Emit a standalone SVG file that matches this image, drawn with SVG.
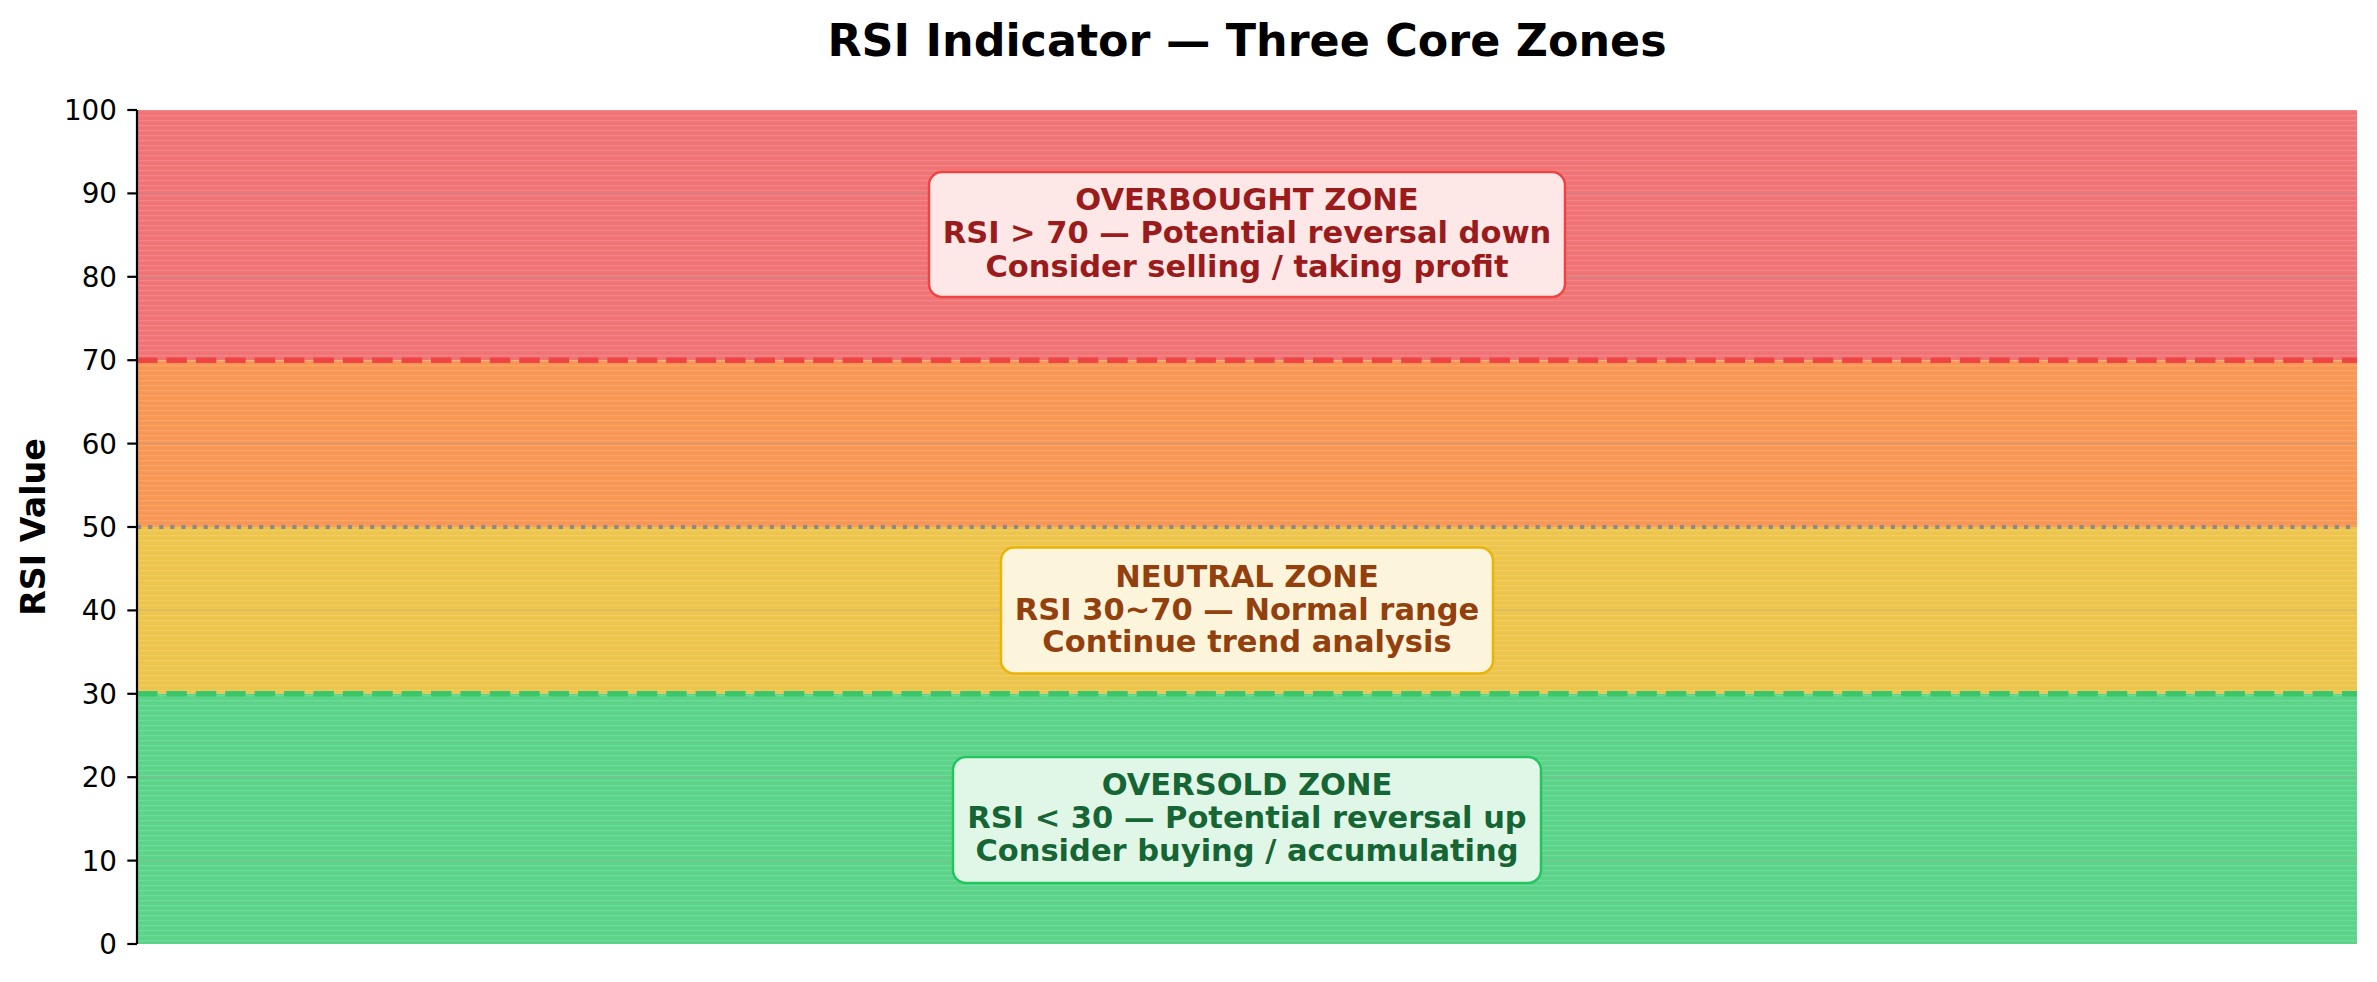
<svg xmlns="http://www.w3.org/2000/svg" width="2377" height="982" viewBox="0 0 2377 982">
<style>
  text { font-family: "DejaVu Sans", "Liberation Sans", sans-serif; }
  .tick { font-size: 27.8px; fill: #000; text-anchor: end; }
  .title { font-size: 44.4px; font-weight: bold; text-anchor: middle; fill: #000; }
  .ylab { font-size: 33.3px; font-weight: bold; text-anchor: middle; fill: #000; }
  .bt { font-size: 30.5px; font-weight: bold; text-anchor: middle; }
  .grid { stroke: #9a9a9a; stroke-opacity: 0.35; stroke-width: 1.4; }
</style>
<defs>
  <pattern id="stripes" patternUnits="userSpaceOnUse" width="10" height="5">
    <rect x="0" y="0" width="10" height="1.2" fill="#ffffff" fill-opacity="0.13"/>
  </pattern>
</defs>
<rect width="2377" height="982" fill="#ffffff"/>
<text class="title" x="1247" y="56">RSI Indicator — Three Core Zones</text>

<g id="zones">
  <rect x="137" y="110" width="2220" height="250.2" fill="#f07476"/>
  <rect x="137" y="360.2" width="2220" height="166.8" fill="#f89754"/>
  <rect x="137" y="527" width="2220" height="166.8" fill="#eec54c"/>
  <rect x="137" y="693.8" width="2220" height="250.2" fill="#5bd48a"/>
  <rect x="137" y="110" width="2220" height="834" fill="url(#stripes)"/>
</g>

<g id="grid">
  <line class="grid" x1="137" x2="2357" y1="193.4" y2="193.4"/>
  <line class="grid" x1="137" x2="2357" y1="276.8" y2="276.8"/>
  <line class="grid" x1="137" x2="2357" y1="443.6" y2="443.6"/>
  <line class="grid" x1="137" x2="2357" y1="610.4" y2="610.4"/>
  <line class="grid" x1="137" x2="2357" y1="777.2" y2="777.2"/>
  <line class="grid" x1="137" x2="2357" y1="860.6" y2="860.6"/>
</g>

<g id="connectors">
  <line x1="137" x2="2357" y1="360.2" y2="360.2" stroke="#ef4444" stroke-width="5.5" stroke-dasharray="20.5 8.9"/>
  <line x1="137" x2="2357" y1="527" y2="527" stroke="#8a8a8a" stroke-width="4" stroke-dasharray="4.2 6.9"/>
  <line x1="137" x2="2357" y1="693.8" y2="693.8" stroke="#3cc66a" stroke-width="5.5" stroke-dasharray="20.5 8.9"/>
</g>

<g id="axis">
  <line x1="137" x2="137" y1="110" y2="944" stroke="#000" stroke-width="2.2"/>
  <g stroke="#000" stroke-width="2.2">
    <line x1="127.3" x2="137" y1="110" y2="110"/>
    <line x1="127.3" x2="137" y1="193.4" y2="193.4"/>
    <line x1="127.3" x2="137" y1="276.8" y2="276.8"/>
    <line x1="127.3" x2="137" y1="360.2" y2="360.2"/>
    <line x1="127.3" x2="137" y1="443.6" y2="443.6"/>
    <line x1="127.3" x2="137" y1="527" y2="527"/>
    <line x1="127.3" x2="137" y1="610.4" y2="610.4"/>
    <line x1="127.3" x2="137" y1="693.8" y2="693.8"/>
    <line x1="127.3" x2="137" y1="777.2" y2="777.2"/>
    <line x1="127.3" x2="137" y1="860.6" y2="860.6"/>
    <line x1="127.3" x2="137" y1="944" y2="944"/>
  </g>
  <text class="tick" x="117" y="120">100</text>
  <text class="tick" x="117" y="203.4">90</text>
  <text class="tick" x="117" y="286.8">80</text>
  <text class="tick" x="117" y="370.2">70</text>
  <text class="tick" x="117" y="453.6">60</text>
  <text class="tick" x="117" y="537">50</text>
  <text class="tick" x="117" y="620.4">40</text>
  <text class="tick" x="117" y="703.8">30</text>
  <text class="tick" x="117" y="787.2">20</text>
  <text class="tick" x="117" y="870.6">10</text>
  <text class="tick" x="117" y="954">0</text>
  <text class="ylab" transform="translate(45,527) rotate(-90)">RSI Value</text>
</g>

<g id="overbought">
  <rect x="929" y="172" width="636" height="125" rx="13" fill="#fde7e7" stroke="#ef4444" stroke-width="2.5"/>
  <text class="bt" fill="#991b1b" x="1247" y="210">OVERBOUGHT ZONE</text>
  <text class="bt" fill="#991b1b" x="1247" y="243.3">RSI &gt; 70 — Potential reversal down</text>
  <text class="bt" fill="#991b1b" x="1247" y="276.6">Consider selling / taking profit</text>
</g>

<g id="neutral">
  <rect x="1001" y="547.5" width="492" height="126" rx="13" fill="#fdf5db" stroke="#eab308" stroke-width="2.5"/>
  <text class="bt" fill="#92400e" x="1247" y="586.7">NEUTRAL ZONE</text>
  <text class="bt" fill="#92400e" x="1247" y="619.5">RSI 30~70 — Normal range</text>
  <text class="bt" fill="#92400e" x="1247" y="652">Continue trend analysis</text>
</g>

<g id="oversold">
  <rect x="953" y="757" width="588" height="126" rx="13" fill="#e0f7e8" stroke="#22c55e" stroke-width="2.5"/>
  <text class="bt" fill="#166534" x="1247" y="795">OVERSOLD ZONE</text>
  <text class="bt" fill="#166534" x="1247" y="828">RSI &lt; 30 — Potential reversal up</text>
  <text class="bt" fill="#166534" x="1247" y="861">Consider buying / accumulating</text>
</g>
</svg>
